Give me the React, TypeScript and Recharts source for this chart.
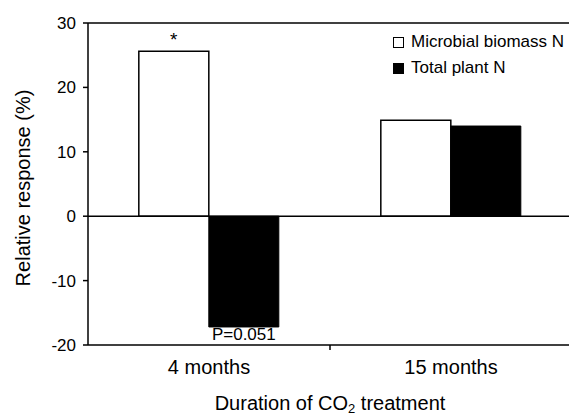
import {
  BarChart,
  Bar,
  XAxis,
  YAxis,
  Legend,
  LabelList,
  ReferenceLine,
} from 'recharts';

const categories = ['4 months', '15 months'];
const microbialN = [25.6, 14.9];
const plantN = [-17.2, 14.0];
const microbialNotes = ['*', ''];
const plantNotes = ['P=0.051', ''];
const yTicks = [-20, -10, 0, 10, 20, 30];

const data = categories.map((c, i) => ({
  name: c,
  microbial: microbialN[i],
  plant: plantN[i],
  microbialNote: microbialNotes[i],
  plantNote: plantNotes[i],
}));

const FONT = '"Liberation Sans", Arial, sans-serif';

function CategoryTick({ x, y, payload, index, visibleTicksCount }: any) {
  const half = payload?.offset ?? 121;
  return (
    <g>
      <text x={x} y={y + 29} textAnchor="middle" fontSize={20} fontFamily={FONT} fill="#000">
        {payload.value}
      </text>
      {index < visibleTicksCount - 1 && (
        <line x1={x + half} x2={x + half} y1={y} y2={y + 5} stroke="#000" strokeWidth={1.5} />
      )}
    </g>
  );
}

function AboveLabel({ x, y, width, height, value }: any) {
  if (!value) return null;
  const top = Math.min(y, y + height);
  return (
    <text x={x + width / 2} y={top - 5} textAnchor="middle" fontSize={19} fontFamily={FONT} fill="#000">
      {value}
    </text>
  );
}

function BelowLabel({ x, y, width, height, value }: any) {
  if (!value) return null;
  const bottom = Math.max(y, y + height);
  return (
    <text x={x + width / 2} y={bottom + 13} textAnchor="middle" fontSize={17} fontFamily={FONT} fill="#000">
      {value}
    </text>
  );
}

function LegendBox() {
  const items = [
    { label: 'Microbial biomass N', fill: '#fff' },
    { label: 'Total plant N', fill: '#000' },
  ];
  return (
    <div style={{ fontFamily: FONT, fontSize: 17, color: '#000' }}>
      {items.map((it) => (
        <div key={it.label} style={{ display: 'flex', alignItems: 'center', height: 26 }}>
          <span
            style={{
              display: 'inline-block',
              width: 9,
              height: 9,
              background: it.fill,
              border: '1.5px solid #000',
              marginRight: 7,
            }}
          />
          <span>{it.label}</span>
        </div>
      ))}
    </div>
  );
}

export default function App() {
  return (
    <div style={{ position: 'absolute', left: 0, top: 0, width: 569, height: 418, overflow: 'hidden', background: '#fff' }}>
      <BarChart
        width={572}
        height={418}
        data={data}
        margin={{ top: 23, right: 0, left: 0, bottom: 0 }}
        barCategoryGap="21%"
        barGap={0}
      >
        <XAxis
          dataKey="name"
          height={73}
          axisLine={{ stroke: '#000', strokeWidth: 1.5 }}
          tickLine={false}
          tickSize={0}
          tickMargin={0}
          tick={<CategoryTick />}
          label={{
            content: ({ viewBox }: any) => (
              <text
                x={viewBox.x + viewBox.width / 2}
                y={410}
                textAnchor="middle"
                fontSize={20}
                fontFamily={FONT}
                fill="#000"
              >
                Duration of CO
                <tspan fontSize={13} dy={3}>2</tspan>
                <tspan dy={-3}> treatment</tspan>
              </text>
            ),
          }}
        />
        <YAxis
          width={88}
          domain={[-20, 30]}
          ticks={yTicks}
          interval={0}
          tickSize={5}
          tickMargin={7}
          axisLine={{ stroke: '#000', strokeWidth: 1.5 }}
          tickLine={{ stroke: '#000', strokeWidth: 1.5 }}
          tick={{ fontSize: 17, fill: '#000', fontFamily: FONT }}
          label={{
            content: ({ viewBox }: any) => {
              const cx = viewBox.x + 23;
              const cy = viewBox.y + viewBox.height / 2 + 4;
              return (
                <text
                  x={cx}
                  y={cy}
                  transform={`rotate(-90 ${cx} ${cy})`}
                  textAnchor="middle"
                  dominantBaseline="central"
                  fontSize={20}
                  fontFamily={FONT}
                  fill="#000"
                >
                  Relative response (%)
                </text>
              );
            },
          }}
        />
        <Legend
          layout="horizontal"
          verticalAlign="middle"
          align="center"
          content={<LegendBox />}
          wrapperStyle={{ position: 'absolute', top: 29, left: 393, width: 180 }}
        />
        <ReferenceLine y={30} stroke="#000" strokeWidth={1.5} />
        <Bar dataKey="microbial" fill="#fff" stroke="#000" strokeWidth={1.5} isAnimationActive={false}>
          <LabelList dataKey="microbialNote" content={<AboveLabel />} />
        </Bar>
        <Bar dataKey="plant" fill="#000" stroke="#000" strokeWidth={1} isAnimationActive={false}>
          <LabelList dataKey="plantNote" content={<BelowLabel />} />
        </Bar>
        <ReferenceLine y={0} stroke="#000" strokeWidth={1.5} />
      </BarChart>
    </div>
  );
}
